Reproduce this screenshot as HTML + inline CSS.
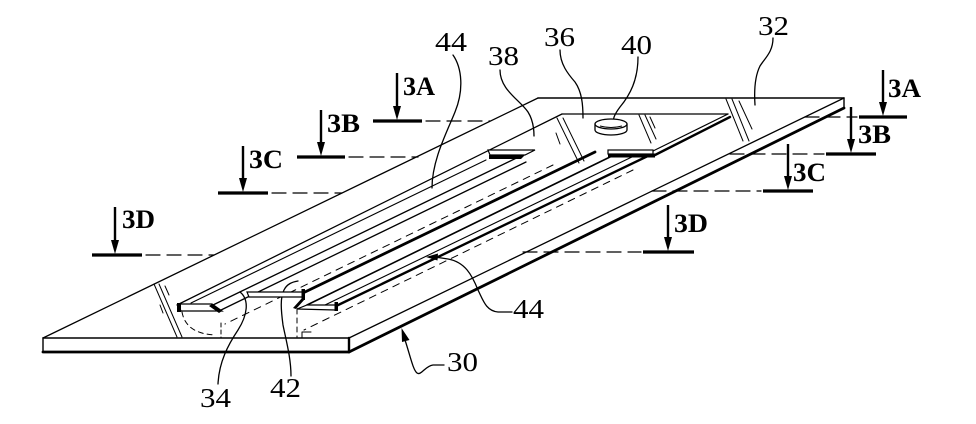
<!DOCTYPE html>
<html>
<head>
<meta charset="utf-8">
<style>
  html,body{margin:0;padding:0;background:#fff;}
  svg{display:block;}
  .num{font-family:"Liberation Serif",serif;font-size:27px;fill:#000;}
  .sec{font-family:"Liberation Serif",serif;font-size:26px;font-weight:bold;fill:#000;}
</style>
</head>
<body>
<svg width="976" height="424" viewBox="0 0 976 424" xmlns="http://www.w3.org/2000/svg">
  <rect width="976" height="424" fill="#fff"/>

  <g fill="none" stroke="#000" stroke-linecap="round" stroke-linejoin="round">
    <!-- Substrate top face -->
    <path d="M538,98 L844,98" stroke-width="1.4"/>
    <path d="M538,98 L43,338" stroke-width="1.3"/>
    <path d="M844,98 L349,338" stroke-width="1.3"/>
    <!-- Front face -->
    <path d="M43,338 L349,338" stroke-width="1.4"/>
    <path d="M43,338 L43,352" stroke-width="1.4"/>
    <path d="M43,352 L349,352" stroke-width="2.8"/>
    <path d="M349,338 L349,352" stroke-width="2.4"/>
    <!-- Side face -->
    <path d="M844,98 L844,108" stroke-width="1.4"/>
    <path d="M844,108 L349,352" stroke-width="2.8"/>

    <!-- Plate 36 -->
    <path d="M562,114 L728,114" stroke-width="1.3"/>
    <path d="M728,114 L653,151" stroke-width="1.2"/>
    <path d="M730,117 L655,155" stroke-width="2.4"/>

    <!-- Left rail -->
    <path d="M562,114 L177,305" stroke-width="1.3"/>
    <path d="M486,160 L191,303" stroke-width="1.1"/>
    <path d="M533,150 L213,305" stroke-width="1.3"/>
    <path d="M526,162 L219,311" stroke-width="1.3"/>

    <!-- Channel heavy line -->
    <path d="M595,152 L305,292" stroke-width="2.8"/>
    <!-- Right rail -->
    <path d="M612,156 L307,305" stroke-width="1.6"/>
    <path d="M636,155 L325,305" stroke-width="1.1"/>
    <path d="M652,154 L334,307" stroke-width="2.4"/>

    <!-- Hidden dashed lines -->
    <path d="M553,165 L225,324" stroke-width="1" stroke-dasharray="7 6"/>
    <path d="M633,170 L304,330" stroke-width="1" stroke-dasharray="7 6"/>
    <path d="M182,312 Q186,334 216,335" stroke-width="1" stroke-dasharray="5 4"/>
    <path d="M221,323 L221,338" stroke-width="1" stroke-dasharray="4 3"/>
    <path d="M297,309 L297,337" stroke-width="1" stroke-dasharray="5 4"/>
    <path d="M302,338 L302,332 L311,332" stroke-width="1"/>

    <!-- Glass hatch marks -->
    <path d="M726,99 L743,141 M732,99 L749,141 M739,101 L752,129" stroke-width="1"/>
    <path d="M639,115 L651,143 M645,115 L656,139 M650,117 L655,128" stroke-width="1"/>
    <path d="M557,118 L579,163 M563,118 L584,161" stroke-width="1"/>
    <path d="M556,133 L560,144" stroke-width="1"/>
    <path d="M154,284 L177,337 M159,284 L182,337 M165,286 L169,295 M160,305 L163,313" stroke-width="1"/>

    <!-- Section dashed lines -->
    <g stroke-width="1.2" stroke-dasharray="14 7">
      <path d="M426,121 L490,121"/>
      <path d="M805,117 L857,117"/>
      <path d="M349,157 L418,157"/>
      <path d="M730,154 L824,154"/>
      <path d="M272,193 L342,193"/>
      <path d="M652,191 L761,191"/>
      <path d="M146,255 L214,255"/>
      <path d="M523,252 L641,252"/>
    </g>

    <!-- Section bars -->
    <g stroke-width="3.2" stroke-linecap="butt">
      <path d="M373,121 L422,121"/>
      <path d="M859,117 L907,117"/>
      <path d="M297,157 L345,157"/>
      <path d="M826,154 L876,154"/>
      <path d="M218,193 L268,193"/>
      <path d="M763,191 L813,191"/>
      <path d="M92,255 L142,255"/>
      <path d="M643,252 L694,252"/>
    </g>
    <!-- Section arrow shafts -->
    <g stroke-width="2.4" stroke-linecap="butt">
      <path d="M397,73 L397,110"/>
      <path d="M883,70 L883,106"/>
      <path d="M321,110 L321,146"/>
      <path d="M851,107 L851,143"/>
      <path d="M243,146 L243,182"/>
      <path d="M788,144 L788,180"/>
      <path d="M115,207 L115,244"/>
      <path d="M668,205 L668,241"/>
    </g>

    <!-- Leaders -->
    <g stroke-width="1.3">
      <path d="M453,55 C462,68 464,90 455,112 C447,132 432,160 432,188"/>
      <path d="M500,70 C500,90 520,100 528,112 C533,120 534,128 534,136"/>
      <path d="M560,50 C560,64 568,74 575,82 C582,92 583,105 583,118"/>
      <path d="M638,57 C638,80 630,95 620,107 C614,115 613,119 613,123"/>
      <path d="M773,38 C773,52 765,58 760,66 C755,76 754,90 755,105"/>
      <path d="M218,384 C219,362 228,345 238,330 C247,316 250,300 240,292"/>
      <path d="M291,376 C291,358 286,340 283,325 C281,310 280,298 284,290 C287,284 292,282 298,281"/>
      <path d="M444,365 L433,365 C425,366 421,376 417,373 C413,370 410,355 405,340"/>
      <path d="M512,312 L498,312 C486,311 483,300 478,290 C472,275 465,262 448,259 L435,257"/>
    </g>
  </g>

  <g fill="#000" stroke="none">
    <!-- Tab 38 -->
    <path d="M488,150 L535,150 L525,155 L490,155 Z" fill="#fff" stroke="#000" stroke-width="1.2"/>
    <path d="M489,155 L525,155 L521,159 L489,159 Z"/>
    <!-- Tab 36 -->
    <rect x="608" y="150" width="45" height="4" fill="#fff" stroke="#000" stroke-width="1.2"/>
    <rect x="608" y="153.5" width="47" height="4"/>
    <!-- Left rail front bar -->
    <path d="M178,304 L212,304 L222,311 L181,311 Z" fill="#fff" stroke="#000" stroke-width="1.2"/>
    <rect x="177" y="303" width="4" height="9"/>
    <path d="M212,304 L222,311 L219,313 L209,306 Z"/>
    <!-- Bridge 42 -->
    <path d="M247,292 L303,292 L303,297 L249,297 Z" fill="#fff" stroke="#000" stroke-width="1.2"/>
    <rect x="301.5" y="289" width="3.5" height="11"/>
    <path d="M303,297 L293,308 L296,309 L305,299 Z"/>
    <!-- Right rail front bar -->
    <path d="M307,305 L337,305 L335,310 L297,309 Z" fill="#fff" stroke="#000" stroke-width="1.2"/>
    <rect x="334.5" y="302" width="3.5" height="9"/>

    <!-- Section arrowheads -->
    <path d="M393,106 L401,106 L397,120 Z"/>
    <path d="M879,102 L887,102 L883,116 Z"/>
    <path d="M317,142 L325,142 L321,156 Z"/>
    <path d="M847,139 L855,139 L851,153 Z"/>
    <path d="M239,178 L247,178 L243,192 Z"/>
    <path d="M784,176 L792,176 L788,190 Z"/>
    <path d="M111,240 L119,240 L115,254 Z"/>
    <path d="M664,237 L672,237 L668,251 Z"/>

    <!-- Leader arrowheads -->
    <path d="M401.5,328 L409.5,340 L402,342 Z"/>
    <path d="M426,257 L438,253.5 L437.5,260.5 Z"/>
  </g>

  <!-- Bump 40 -->
  <g fill="#fff" stroke="#000" stroke-width="1.3">
    <path d="M595,124 L595,130 A16,5 0 0 0 627,130 L627,124"/>
    <ellipse cx="611" cy="124" rx="16" ry="5"/>
  </g>
  <path d="M600,126 Q611,129 622,126" fill="none" stroke="#000" stroke-width="1"/>

  <!-- Reference numerals -->
  <text class="num" x="435" y="51" textLength="32" lengthAdjust="spacingAndGlyphs">44</text>
  <text class="num" x="488" y="65" textLength="31" lengthAdjust="spacingAndGlyphs">38</text>
  <text class="num" x="544" y="46" textLength="31" lengthAdjust="spacingAndGlyphs">36</text>
  <text class="num" x="621" y="54" textLength="31" lengthAdjust="spacingAndGlyphs">40</text>
  <text class="num" x="758" y="35" textLength="31" lengthAdjust="spacingAndGlyphs">32</text>
  <text class="num" x="200" y="407" textLength="31" lengthAdjust="spacingAndGlyphs">34</text>
  <text class="num" x="270" y="397" textLength="31" lengthAdjust="spacingAndGlyphs">42</text>
  <text class="num" x="447" y="371" textLength="31" lengthAdjust="spacingAndGlyphs">30</text>
  <text class="num" x="513" y="318" textLength="31" lengthAdjust="spacingAndGlyphs">44</text>

  <!-- Section labels -->
  <text class="sec" x="403" y="95" textLength="32" lengthAdjust="spacingAndGlyphs">3A</text>
  <text class="sec" x="327" y="132" textLength="33" lengthAdjust="spacingAndGlyphs">3B</text>
  <text class="sec" x="249" y="168" textLength="34" lengthAdjust="spacingAndGlyphs">3C</text>
  <text class="sec" x="122" y="228" textLength="33" lengthAdjust="spacingAndGlyphs">3D</text>
  <text class="sec" x="888" y="97" textLength="33" lengthAdjust="spacingAndGlyphs">3A</text>
  <text class="sec" x="858" y="143" textLength="33" lengthAdjust="spacingAndGlyphs">3B</text>
  <text class="sec" x="793" y="181" textLength="33" lengthAdjust="spacingAndGlyphs">3C</text>
  <text class="sec" x="674" y="232" textLength="34" lengthAdjust="spacingAndGlyphs">3D</text>
</svg>
</body>
</html>
